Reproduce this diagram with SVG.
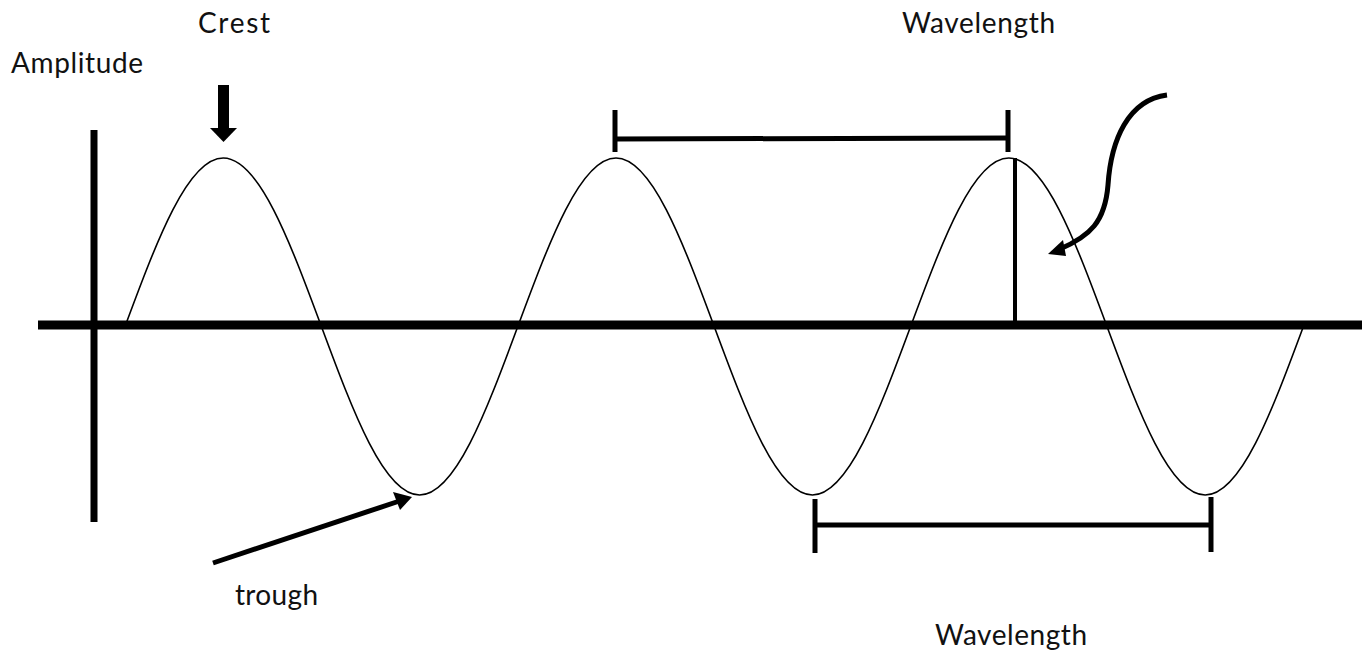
<svg xmlns="http://www.w3.org/2000/svg" width="1368" height="654" viewBox="0 0 1368 654">
<style>
  .lbl { font-family: Lato, "Liberation Sans", sans-serif; font-size: 28px; fill: #111; }
  .thick { stroke: #000; fill: none; }
  .wave { stroke: #000; stroke-width: 1.6; fill: none; }
</style>
<rect width="1368" height="654" fill="#fff"/>

<g id="axes">
  <line x1="38" y1="325" x2="1362" y2="325" class="thick" stroke-width="9"/>
  <line x1="94" y1="130" x2="94" y2="522" class="thick" stroke-width="7"/>
</g>

<g id="wave">
  <path class="wave" d="M125,326.5
    c32.04,-86.36 62.77,-168.5 98.2,-168.5
    c35.43,0 66.16,82.14 98.2,168.5
    c32.04,86.36 62.77,168.5 98.2,168.5
    c35.43,0 66.16,-82.14 98.2,-168.5
    c32.04,-86.36 62.77,-168.5 98.2,-168.5
    c35.43,0 66.16,82.14 98.2,168.5
    c32.04,86.36 62.77,168.5 98.2,168.5
    c35.43,0 66.16,-82.14 98.2,-168.5
    c32.04,-86.36 62.77,-168.5 98.2,-168.5
    c35.43,0 66.16,82.14 98.2,168.5
    c32.04,86.36 62.77,168.5 98.2,168.5
    c35.43,0 66.16,-82.14 98.2,-168.5"/>
</g>

<g id="amplitude-line">
  <line x1="1015" y1="158" x2="1015" y2="322" class="thick" stroke-width="4"/>
</g>

<g id="connectors">
  <g id="crest-arrow">
    <rect x="218" y="85" width="11" height="44" fill="#000"/>
    <path d="M210,128 L237,128 L223.5,142 z" fill="#000"/>
  </g>
  <g id="trough-arrow">
    <line x1="213" y1="563" x2="398" y2="501.5" class="thick" stroke-width="5"/>
    <path d="M412,497 L393,492 L400,510 z" fill="#000"/>
  </g>
  <g id="amplitude-arrow">
    <path d="M1167,95 C1128,100 1111,140 1108,185 C1105,222 1090,236 1060,249" class="thick" stroke-width="5"/>
    <path d="M1048,254 L1063,240 L1066,256 z" fill="#000"/>
  </g>
</g>

<g id="wavelength-top">
  <line x1="615" y1="110" x2="615" y2="152" class="thick" stroke-width="5"/>
  <line x1="1008" y1="110" x2="1008" y2="152" class="thick" stroke-width="5"/>
  <line x1="615" y1="139" x2="1008" y2="138" class="thick" stroke-width="5"/>
</g>

<g id="wavelength-bottom">
  <line x1="815" y1="499" x2="815" y2="553" class="thick" stroke-width="5"/>
  <line x1="1211" y1="497" x2="1211" y2="552" class="thick" stroke-width="5"/>
  <line x1="815" y1="525" x2="1211" y2="525" class="thick" stroke-width="5"/>
</g>

<g id="labels">
  <text class="lbl" x="198" y="33" textLength="72" lengthAdjust="spacing">Crest</text>
  <text class="lbl" x="11" y="73" textLength="132" lengthAdjust="spacing">Amplitude</text>
  <text class="lbl" x="902" y="33" textLength="153" lengthAdjust="spacing">Wavelength</text>
  <text class="lbl" x="235" y="605" textLength="83" lengthAdjust="spacing">trough</text>
  <text class="lbl" x="935" y="645" textLength="152" lengthAdjust="spacing">Wavelength</text>
</g>
</svg>
